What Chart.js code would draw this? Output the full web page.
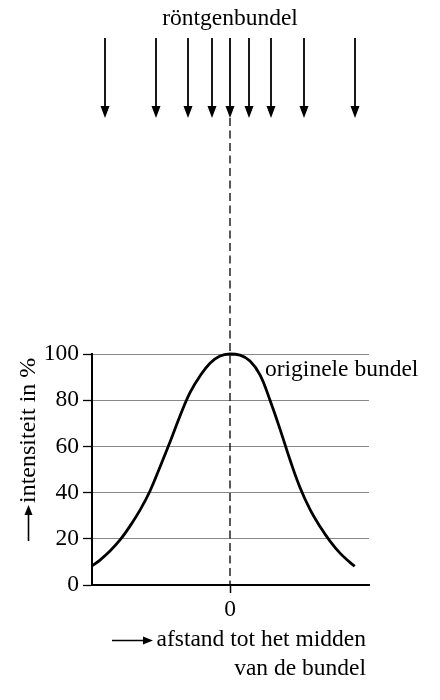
<!DOCTYPE html>
<html>
<head>
<meta charset="utf-8">
<script src="https://cdn.jsdelivr.net/npm/chart.js@4.4.1/dist/chart.umd.min.js"></script>
<style>
  html, body { margin: 0; padding: 0; background: #fff; }
  canvas { display: block; }
</style>
</head>
<body>
<canvas id="c" width="440" height="700"></canvas>
<script>
// ---- data ----
const titleText = 'röntgenbundel';
const curveLabel = 'originele bundel';
const yTitle = 'intensiteit in %';
const xTitleLines = ['afstand tot het midden', 'van de bundel'];
const xTicks = [0];
const yTicks = [0, 20, 40, 60, 80, 100];
const distance  = [-13.75, -13, -12, -11, -10, -9, -8, -7, -6, -5, -4, -3, -2, -1, 0, 1, 2, 3, 4, 5, 6, 7, 8, 9, 10, 11, 12, 12.47];
const intensity = [8.4, 10.8, 14.7, 19.5, 25.5, 32.4, 40.7, 51.1, 61.9, 73.2, 83.3, 90.5, 96, 99.1, 100, 99.5, 97, 91, 80, 67.5, 54.2, 42.2, 32.7, 25.3, 19, 13.8, 9.8, 8.1];
const beamArrows = [-12.5, -7.4, -4.2, -1.8, 0, 1.9, 4.1, 7.4, 12.5];

const FONT = '"Liberation Serif", "DejaVu Serif", serif';

function arrowHead(ctx, x, y, dir, len, half) {
  ctx.beginPath();
  if (dir === 'down') { ctx.moveTo(x, y); ctx.lineTo(x - half, y - len); ctx.lineTo(x + half, y - len); }
  if (dir === 'up')   { ctx.moveTo(x, y); ctx.lineTo(x - half, y + len); ctx.lineTo(x + half, y + len); }
  if (dir === 'right'){ ctx.moveTo(x, y); ctx.lineTo(x - len, y - half); ctx.lineTo(x - len, y + half); }
  ctx.closePath();
  ctx.fill();
}

const decor = {
  id: 'decor',
  beforeDatasetsDraw(chart) {
    const ctx = chart.ctx, xs = chart.scales.x, area = chart.chartArea;
    const x0 = xs.getPixelForValue(0);
    ctx.save();
    ctx.strokeStyle = '#000';
    ctx.lineWidth = 1.3;
    ctx.setLineDash([8, 4.5]);
    ctx.beginPath();
    ctx.moveTo(x0, 118);
    ctx.lineTo(x0, area.bottom);
    ctx.stroke();
    ctx.restore();
  },
  afterDraw(chart) {
    const ctx = chart.ctx, xs = chart.scales.x;
    ctx.save();
    ctx.fillStyle = '#000';
    ctx.strokeStyle = '#000';
    ctx.font = '23.5px ' + FONT;
    ctx.textBaseline = 'alphabetic';

    ctx.textAlign = 'center';
    ctx.fillText(titleText, xs.getPixelForValue(0), 25);

    ctx.lineWidth = 1.8;
    beamArrows.forEach(v => {
      const x = xs.getPixelForValue(v);
      ctx.beginPath();
      ctx.moveTo(x, 38);
      ctx.lineTo(x, 110);
      ctx.stroke();
      arrowHead(ctx, x, 118, 'down', 12, 4.5);
    });

    ctx.textAlign = 'left';
    ctx.fillText(curveLabel, 265, 376);

    ctx.save();
    ctx.font = '24px ' + FONT;
    ctx.translate(34.5, 503);
    ctx.rotate(-Math.PI / 2);
    ctx.textAlign = 'left';
    ctx.fillText(yTitle, 0, 0);
    ctx.restore();
    ctx.lineWidth = 1.6;
    ctx.beginPath();
    ctx.moveTo(28.5, 541);
    ctx.lineTo(28.5, 512);
    ctx.stroke();
    arrowHead(ctx, 28.5, 505, 'up', 10, 4);

    ctx.textAlign = 'right';
    ctx.fillText(xTitleLines[0], 366, 646);
    ctx.fillText(xTitleLines[1], 366, 675);
    ctx.beginPath();
    ctx.moveTo(112, 640.5);
    ctx.lineTo(146, 640.5);
    ctx.stroke();
    arrowHead(ctx, 153, 640.5, 'right', 10, 4);

    ctx.restore();
  }
};

new Chart(document.getElementById('c'), {
  type: 'line',
  data: {
    datasets: [{
      data: distance.map((x, i) => ({ x: x, y: intensity[i] })),
      borderColor: '#000',
      borderWidth: 2.8,
      pointRadius: 0,
      fill: false,
      tension: 0.4,
      clip: false
    }]
  },
  options: {
    responsive: false,
    maintainAspectRatio: false,
    animation: false,
    layout: { padding: { left: 0, right: 71, top: 354, bottom: 0 } },
    plugins: { legend: { display: false }, tooltip: { enabled: false } },
    scales: {
      x: {
        type: 'linear',
        min: -13.8,
        max: 13.9,
        afterBuildTicks: s => { s.ticks = xTicks.map(v => ({ value: v })); },
        afterFit: s => { s.height = 115; },
        grid: { drawOnChartArea: false, drawTicks: true, tickLength: 8, tickColor: '#000', tickWidth: 1.5 },
        border: { color: '#000', width: 2 },
        ticks: { font: { family: FONT, size: 23.5 }, color: '#000', padding: 3, maxRotation: 0, autoSkip: false }
      },
      y: {
        type: 'linear',
        min: 0,
        max: 100,
        afterBuildTicks: s => { s.ticks = yTicks.map(v => ({ value: v })); },
        afterFit: s => { s.width = 92; },
        grid: { color: '#888888', lineWidth: 1, tickLength: 9, tickColor: '#000', tickWidth: 1.3 },
        border: { color: '#000', width: 2 },
        ticks: { font: { family: FONT, size: 23.5 }, color: '#000', padding: 4 }
      }
    }
  },
  plugins: [decor]
});
</script>
</body>
</html>
